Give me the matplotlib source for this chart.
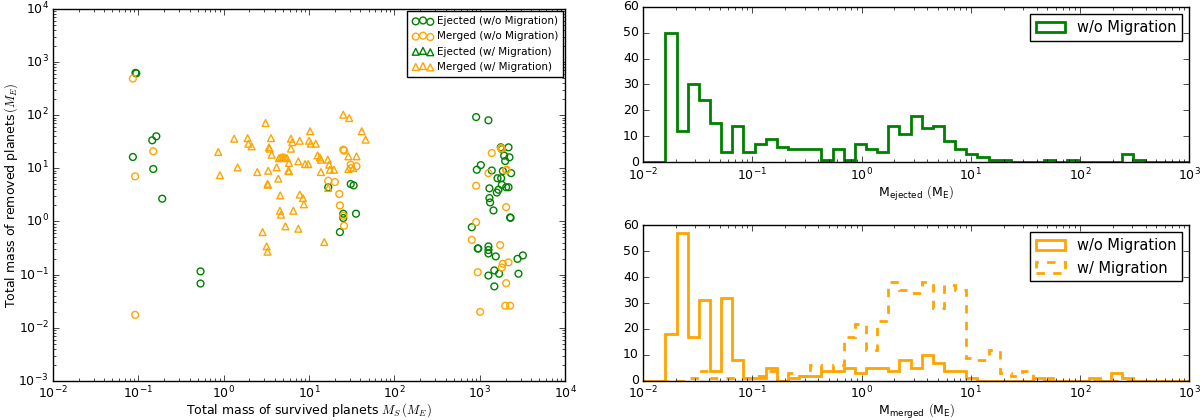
import numpy as np
import matplotlib
matplotlib.use('Agg')
import matplotlib.pyplot as plt

plt.style.use('classic')
plt.rcParams['mathtext.fontset'] = 'cm'
plt.rcParams['font.family'] = ['DejaVu Sans']

# ---- scatter data: total survived mass (x) vs total removed mass (y), Earth masses
ej_nomig_x = [0.093, 0.095, 0.146, 0.163, 0.0866, 0.150, 0.191, 0.537, 0.537,
              16.8, 30.8, 33.3, 25.2, 25.2, 35.5, 23.0,
              906, 1262, 1762, 1811, 2168, 1928, 1982, 2224, 922, 1028, 1380, 1860,
              2327, 1611, 1778, 1811, 2036, 2170, 1297, 1656, 1582, 1297, 1320, 1445,
              2264, 2290, 806, 946, 960, 1262, 1262, 1262, 1537, 2763, 3193, 1262,
              1479, 1683, 2838, 1479]
ej_nomig_y = [624, 610, 33.6, 40, 16.3, 9.7, 2.68, 0.115, 0.068,
              4.4, 5.06, 4.77, 1.40, 1.16, 1.40, 0.63,
              92, 80, 24.8, 23, 24.8, 17.3, 13.7, 16.1, 9.4, 11.5, 9.1, 8.9,
              8.1, 6.5, 6.5, 4.9, 4.4, 4.4, 4.2, 3.95, 3.5, 2.75, 2.28, 1.61,
              1.19, 1.17, 0.78, 0.31, 0.31, 0.34, 0.29, 0.25, 0.22, 0.198, 0.23, 0.096,
              0.12, 0.104, 0.104, 0.060]

mg_nomig_x = [0.0866, 0.150, 0.092, 0.092,
              16.8, 20.1, 22.6, 23.0, 25.2, 25.7, 25.2, 25.8, 30.8, 36.0, 31.0,
              1770, 1811, 1380, 1262, 2036, 2060, 906, 2036, 906, 806, 1731, 1860,
              1811, 2168, 946, 2036, 1982, 2264, 1009]
mg_nomig_y = [488, 20.9, 7.06, 0.0175,
              5.85, 5.5, 3.28, 2.0, 1.28, 0.83, 22.4, 21.5, 11.7, 10.9, 10.0,
              24, 23.5, 19.4, 8.1, 9.2, 9.4, 4.7, 1.86, 0.97, 0.45, 0.36, 0.16,
              0.136, 0.17, 0.111, 0.069, 0.026, 0.026, 0.0199]

ej_mig_x = []
ej_mig_y = []

mg_mig_x = [0.865, 0.906, 1.33, 1.46, 1.91, 1.95, 2.13, 2.48, 3.1, 3.33, 3.27, 3.3,
            3.40, 3.45, 3.59, 3.65, 4.18, 4.37, 4.45, 4.70, 4.95, 5.23, 5.52, 4.61,
            5.82, 5.73, 5.85, 6.15, 6.15, 6.38, 7.8, 7.5, 9.0, 9.8, 7.8, 8.5, 8.7,
            10.3, 10.0, 10.5, 12.0, 12.6, 13.4, 13.8, 16.6, 17.2, 17.6, 19.6, 13.8,
            25.2, 29.6, 41.4, 46.0, 28.9, 36.0, 28.9, 33.0, 16.8, 4.57, 4.70, 6.55,
            5.3, 7.5, 2.86, 3.19, 3.27, 15.1]
mg_mig_y = [20.3, 7.4, 36, 10.4, 37, 29, 25.9, 8.5, 71, 9.0, 5.1, 4.9,
            24.8, 23.4, 37, 18, 10.4, 6.4, 15.5, 16, 16.3, 16, 15.5, 3.09,
            12.6, 9.0, 8.8, 36, 23.4, 31, 33, 13.5, 12.0, 12.0, 3.2, 2.75, 2.1,
            49.7, 33, 29, 29, 17.5, 16, 14.5, 14.5, 11.7, 9.4, 9.4, 8.5,
            102, 88, 49.7, 34.6, 16.8, 16.8, 9.7, 10.1, 4.26, 1.59, 1.34, 1.59,
            0.81, 0.73, 0.63, 0.34, 0.27, 0.41]

# ---- histograms: 49 log bins from 1e-2 to 1e3
bin_edges = np.logspace(-2, 3, 50)
ejected_nomig_counts = [0, 0, 50, 12, 30, 24, 15, 4, 14, 4,
                        7, 9, 6, 5, 5, 5, 1, 5, 1, 7,
                        5, 4, 14, 11, 18, 13, 14, 8, 5, 3,
                        2, 1, 1, 0, 0, 0, 1, 0, 1, 0,
                        0, 0, 0, 3, 1, 0, 0, 0, 0]
merged_nomig_counts = [0, 0, 18, 57, 17, 31, 4, 32, 8, 1,
                       1, 5, 0, 1, 2, 2, 4, 4, 5, 3,
                       5, 5, 4, 8, 5, 10, 7, 4, 4, 1,
                       0, 0, 0, 0, 0, 1, 0, 0, 0, 0,
                       1, 0, 3, 1, 0, 0, 0, 0, 0]
merged_mig_counts = [0, 0, 0, 0, 1, 4, 1, 1, 1, 1,
                     2, 4, 0, 3, 2, 6, 4, 6, 17, 22,
                     12, 23, 38, 35, 34, 38, 28, 37, 35, 9,
                     8, 12, 3, 2, 4, 1, 1, 0, 0, 0,
                     0, 0, 0, 0, 0, 0, 0, 0, 0]

bin_mid = np.sqrt(bin_edges[:-1] * bin_edges[1:])

fig = plt.figure(figsize=(12, 4.2), dpi=100, facecolor='white')

# scatter panel
ax = fig.add_axes([0.044, 0.093, 0.427, 0.886])
ax.scatter(ej_nomig_x, ej_nomig_y, s=24, facecolors='none', edgecolors='green',
           marker='o', lw=1, label='Ejected (w/o Migration)')
ax.scatter(mg_nomig_x, mg_nomig_y, s=24, facecolors='none', edgecolors='orange',
           marker='o', lw=1, label='Merged (w/o Migration)')
ax.scatter(ej_mig_x, ej_mig_y, s=24, facecolors='none', edgecolors='green',
           marker='^', lw=1, label='Ejected (w/ Migration)')
ax.scatter(mg_mig_x, mg_mig_y, s=24, facecolors='none', edgecolors='orange',
           marker='^', lw=1, label='Merged (w/ Migration)')
ax.set_xscale('log')
ax.set_yscale('log')
ax.set_xlim(1e-2, 1e4)
ax.set_ylim(1e-3, 1e4)
ax.set_xlabel('Total mass of survived planets $M_S\\,(M_E)$', fontsize=9, labelpad=0)
ax.set_ylabel('Total mass of removed planets$\\,(M_E)$', fontsize=9, labelpad=-1)
ax.tick_params(labelsize=9, pad=3)
ax.legend(loc='upper right', scatterpoints=3, fontsize=7.5, handletextpad=0.3,
          borderpad=0.5, labelspacing=0.5, borderaxespad=0.2)

# ejected histogram
ax1 = fig.add_axes([0.536, 0.614, 0.455, 0.370])
ax1.hist(bin_mid, bins=bin_edges, weights=ejected_nomig_counts, histtype='step',
         color='green', lw=2, label='w/o Migration')
ax1.set_xscale('log')
ax1.set_xlim(1e-2, 1e3)
ax1.set_ylim(0, 60)
ax1.set_xlabel('M$_{\\mathregular{ejected}}$ $(\\mathregular{M_E})$', fontsize=9, labelpad=1)
ax1.tick_params(labelsize=9, pad=3)
ax1.legend(loc='upper right', fontsize=10.5)

# merged histogram
ax2 = fig.add_axes([0.536, 0.093, 0.455, 0.371])
ax2.hist(bin_mid, bins=bin_edges, weights=merged_nomig_counts, histtype='step',
         color='orange', lw=2, label='w/o Migration')
ax2.hist(bin_mid, bins=bin_edges, weights=merged_mig_counts, histtype='step',
         color='orange', lw=2, ls='dashed', label='w/ Migration')
ax2.set_xscale('log')
ax2.set_xlim(1e-2, 1e3)
ax2.set_ylim(0, 60)
ax2.set_xlabel('M$_{\\mathregular{merged}}$ $(\\mathregular{M_E})$', fontsize=9, labelpad=0)
ax2.tick_params(labelsize=9, pad=3)
ax2.legend(loc='upper right', fontsize=10.5)

fig.savefig('out.png', dpi=100, facecolor='white')
